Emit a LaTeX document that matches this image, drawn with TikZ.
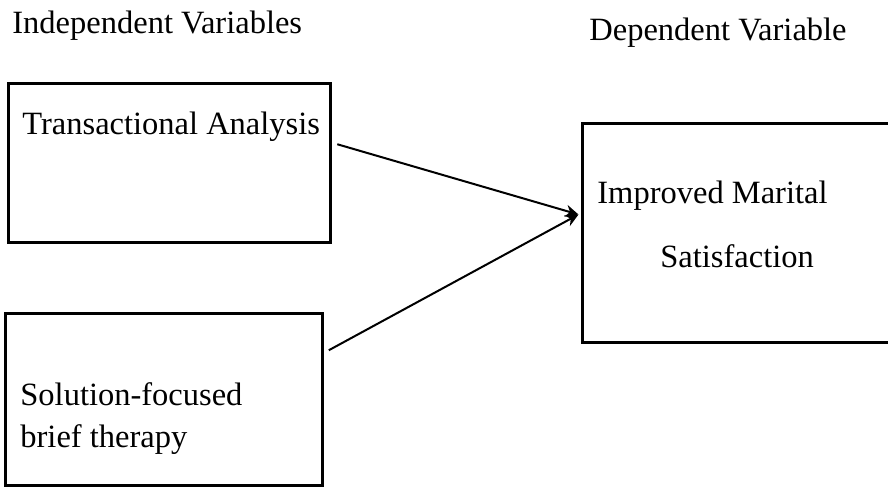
\documentclass[tikz,border=0pt]{standalone}
\usepackage{fontspec}
\setmainfont{Liberation Serif}
\usetikzlibrary{calc,fit,arrows.meta}
\tikzset{
	varbox/.style={draw, line width=1.5pt, inner sep=0pt},
	lbl/.style={inner sep=0pt, anchor=base west, font=\fontsize{16.25}{21}\selectfont},
	link/.style={line width=1pt, shorten <=3pt, -{Stealth[length=6.5pt,width=6pt]}}
}

\begin{document}
\begin{tikzpicture}[x=0.5pt,y=-0.5pt]
		%%%%% START %%%%%
		\useasboundingbox (0,0) rectangle (888,489);
		\clip (0,0) rectangle (888,489);
		
		\node[lbl] (indep) at (12,33) {Independent Variables};
		\node[lbl] (dep) at (589,40) {Dependent Variable};
		
		\node[varbox, fit={(8,83) (330,242)}] (ta) {};
		\node[varbox, fit={(5,313) (322,485)}] (sfbt) {};
		\node[varbox, fit={(582,123) (900,342)}] (ims) {};
		
		\node[lbl] (talbl) at (22,134) {Transactional Analysis};
		\node[lbl] (sflbl) at (20,405) {Solution-focused};
		\node[lbl] (btlbl) at (20,447) {brief therapy};
		\node[lbl] (imlbl) at (597,203) {Improved Marital};
		\node[lbl] (satlbl) at (660,267) {Satisfaction};
		
		\coordinate (meet) at ($(ims.west)+(-2,-18)$);
		\draw[link] (ta.7) -- (meet);
		\draw[link] (sfbt.16) -- (meet);
		
		%%%%% END %%%%%
	\end{tikzpicture}
\end{document}
